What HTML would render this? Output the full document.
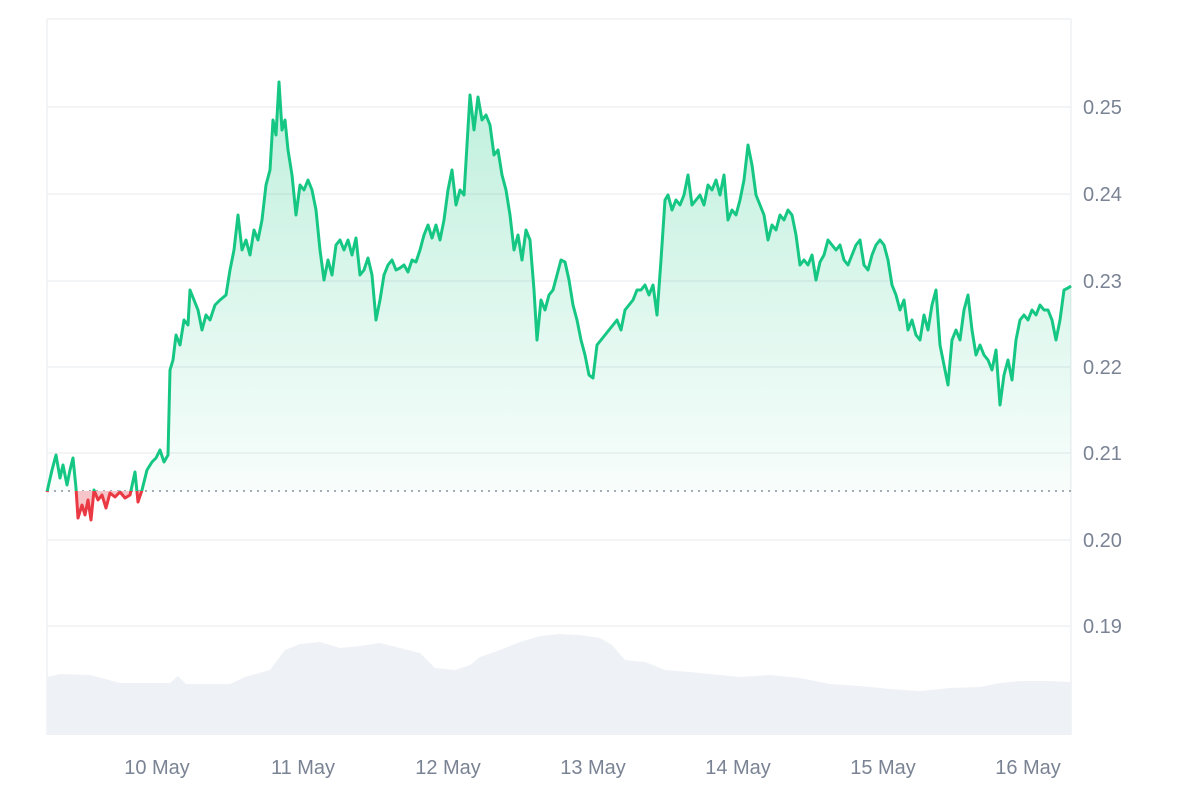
<!DOCTYPE html>
<html><head><meta charset="utf-8"><style>
html,body{margin:0;padding:0;background:#fff;}
svg{display:block;}
text{font-family:"Liberation Sans",sans-serif;font-size:20px;fill:#7a8394;}
</style></head><body>
<svg width="1200" height="800" viewBox="0 0 1200 800">
<defs>
<linearGradient id="g" x1="0" y1="80" x2="0" y2="491" gradientUnits="userSpaceOnUse">
<stop offset="0" stop-color="#16c784" stop-opacity="0.28"/>
<stop offset="1" stop-color="#16c784" stop-opacity="0.03"/>
</linearGradient>
<clipPath id="above"><rect x="0" y="0" width="1200" height="491"/></clipPath>
<clipPath id="below"><rect x="0" y="491" width="1200" height="309"/></clipPath>
<path id="fillp" d="M47,491 L47,492 L52,470 L56,455 L60,478 L63,465 L67,485 L70,470 L73,458 L76,488 L78,518 L82,505 L85,515 L88,500 L91,520 L94,490 L98,500 L102,495 L106,508 L110,493 L115,497 L120,492 L125,498 L130,495 L135,472 L138,502 L142,490 L147,470 L152,462 L156,458 L160,450 L164,462 L168,455 L170,370 L173,360 L176,335 L180,345 L184,320 L188,325 L190,290 L194,300 L198,310 L202,330 L206,315 L210,320 L215,305 L220,300 L226,295 L230,270 L234,250 L238,215 L242,250 L246,240 L250,255 L254,230 L258,240 L262,220 L266,185 L270,170 L273,120 L276,135 L279,82 L282,130 L285,120 L288,150 L292,175 L296,215 L300,185 L304,190 L308,180 L312,190 L316,210 L320,250 L324,280 L328,260 L332,275 L336,245 L340,240 L344,250 L348,240 L352,255 L356,238 L360,275 L364,270 L368,258 L372,275 L376,320 L380,300 L384,275 L388,265 L392,260 L396,270 L400,268 L404,265 L408,272 L412,260 L416,262 L420,250 L424,235 L428,225 L432,238 L436,225 L440,240 L444,220 L448,190 L452,170 L456,205 L460,190 L464,195 L467,145 L470,95 L474,130 L478,97 L482,120 L486,115 L490,125 L494,155 L498,150 L502,175 L506,190 L510,215 L514,250 L518,235 L522,260 L526,230 L530,240 L534,290 L537,340 L541,300 L545,310 L549,295 L553,290 L557,275 L561,260 L565,262 L569,280 L573,305 L577,320 L581,340 L585,355 L589,375 L593,378 L597,345 L601,340 L605,335 L609,330 L613,325 L617,320 L621,330 L625,310 L629,305 L633,300 L637,290 L641,290 L645,285 L649,295 L653,285 L657,315 L661,260 L665,200 L668,195 L672,210 L676,200 L680,205 L684,195 L688,175 L692,205 L696,200 L700,195 L704,205 L708,185 L712,190 L716,180 L720,195 L724,175 L728,220 L732,210 L736,215 L740,200 L744,180 L748,145 L752,165 L756,195 L760,205 L764,215 L768,240 L772,225 L776,230 L780,215 L784,220 L788,210 L792,215 L796,235 L800,265 L804,260 L808,265 L812,255 L816,280 L820,262 L824,255 L828,240 L832,245 L836,250 L840,245 L844,260 L848,265 L852,255 L856,245 L860,240 L864,265 L868,270 L872,255 L876,245 L880,240 L884,245 L888,260 L892,285 L896,295 L900,310 L904,300 L908,330 L912,320 L916,335 L920,340 L924,315 L928,330 L932,305 L936,290 L940,345 L944,365 L948,385 L952,340 L956,330 L960,340 L964,310 L968,295 L972,330 L976,355 L980,345 L984,355 L988,360 L992,370 L996,350 L1000,405 L1004,375 L1008,360 L1012,380 L1016,340 L1020,320 L1024,315 L1028,320 L1032,310 L1036,315 L1040,305 L1044,310 L1048,310 L1052,320 L1056,340 L1060,320 L1064,290 L1068,288 L1071,286 L1071,491 Z"/>
<path id="linep" d="M47,492 L52,470 L56,455 L60,478 L63,465 L67,485 L70,470 L73,458 L76,488 L78,518 L82,505 L85,515 L88,500 L91,520 L94,490 L98,500 L102,495 L106,508 L110,493 L115,497 L120,492 L125,498 L130,495 L135,472 L138,502 L142,490 L147,470 L152,462 L156,458 L160,450 L164,462 L168,455 L170,370 L173,360 L176,335 L180,345 L184,320 L188,325 L190,290 L194,300 L198,310 L202,330 L206,315 L210,320 L215,305 L220,300 L226,295 L230,270 L234,250 L238,215 L242,250 L246,240 L250,255 L254,230 L258,240 L262,220 L266,185 L270,170 L273,120 L276,135 L279,82 L282,130 L285,120 L288,150 L292,175 L296,215 L300,185 L304,190 L308,180 L312,190 L316,210 L320,250 L324,280 L328,260 L332,275 L336,245 L340,240 L344,250 L348,240 L352,255 L356,238 L360,275 L364,270 L368,258 L372,275 L376,320 L380,300 L384,275 L388,265 L392,260 L396,270 L400,268 L404,265 L408,272 L412,260 L416,262 L420,250 L424,235 L428,225 L432,238 L436,225 L440,240 L444,220 L448,190 L452,170 L456,205 L460,190 L464,195 L467,145 L470,95 L474,130 L478,97 L482,120 L486,115 L490,125 L494,155 L498,150 L502,175 L506,190 L510,215 L514,250 L518,235 L522,260 L526,230 L530,240 L534,290 L537,340 L541,300 L545,310 L549,295 L553,290 L557,275 L561,260 L565,262 L569,280 L573,305 L577,320 L581,340 L585,355 L589,375 L593,378 L597,345 L601,340 L605,335 L609,330 L613,325 L617,320 L621,330 L625,310 L629,305 L633,300 L637,290 L641,290 L645,285 L649,295 L653,285 L657,315 L661,260 L665,200 L668,195 L672,210 L676,200 L680,205 L684,195 L688,175 L692,205 L696,200 L700,195 L704,205 L708,185 L712,190 L716,180 L720,195 L724,175 L728,220 L732,210 L736,215 L740,200 L744,180 L748,145 L752,165 L756,195 L760,205 L764,215 L768,240 L772,225 L776,230 L780,215 L784,220 L788,210 L792,215 L796,235 L800,265 L804,260 L808,265 L812,255 L816,280 L820,262 L824,255 L828,240 L832,245 L836,250 L840,245 L844,260 L848,265 L852,255 L856,245 L860,240 L864,265 L868,270 L872,255 L876,245 L880,240 L884,245 L888,260 L892,285 L896,295 L900,310 L904,300 L908,330 L912,320 L916,335 L920,340 L924,315 L928,330 L932,305 L936,290 L940,345 L944,365 L948,385 L952,340 L956,330 L960,340 L964,310 L968,295 L972,330 L976,355 L980,345 L984,355 L988,360 L992,370 L996,350 L1000,405 L1004,375 L1008,360 L1012,380 L1016,340 L1020,320 L1024,315 L1028,320 L1032,310 L1036,315 L1040,305 L1044,310 L1048,310 L1052,320 L1056,340 L1060,320 L1064,290 L1068,288 L1071,286"/>
</defs>
<g stroke="#eef0f3" stroke-width="1.5">
<line x1="47" y1="19" x2="1071" y2="19"/>
<line x1="47" y1="107" x2="1071" y2="107"/>
<line x1="47" y1="194" x2="1071" y2="194"/>
<line x1="47" y1="281" x2="1071" y2="281"/>
<line x1="47" y1="367" x2="1071" y2="367"/>
<line x1="47" y1="453" x2="1071" y2="453"/>
<line x1="47" y1="540" x2="1071" y2="540"/>
<line x1="47" y1="626" x2="1071" y2="626"/>
<line x1="47" y1="19" x2="47" y2="735"/>
<line x1="1071" y1="19" x2="1071" y2="735"/>
</g>
<path fill="#eef1f5" d="M47,677 L60,674 L90,675 L120,683 L170,683 L178,676 L186,684 L230,684 L245,677 L270,670 L285,650 L300,644 L320,642 L340,648 L360,646 L380,643 L400,648 L420,653 L435,668 L455,670 L470,665 L480,657 L500,650 L520,642 L540,636 L560,634 L580,635 L600,638 L612,645 L625,660 L645,662 L665,670 L700,673 L740,677 L770,675 L800,678 L830,684 L860,686 L890,689 L920,691 L950,688 L980,687 L1000,683 L1020,681 L1050,681 L1071,682 L1071,735 L47,735 Z"/>
<line x1="47" y1="491" x2="1071" y2="491" stroke="#8a919c" stroke-width="1.5" stroke-dasharray="2,5"/>
<use href="#fillp" fill="url(#g)" clip-path="url(#above)"/>
<use href="#fillp" fill="#f6c5c9" clip-path="url(#below)"/>
<use href="#linep" fill="none" stroke="#16c784" stroke-width="3" stroke-linejoin="round" clip-path="url(#above)"/>
<use href="#linep" fill="none" stroke="#ea3943" stroke-width="3" stroke-linejoin="round" clip-path="url(#below)"/>
<text x="1083" y="114">0.25</text>
<text x="1083" y="201">0.24</text>
<text x="1083" y="288">0.23</text>
<text x="1083" y="374">0.22</text>
<text x="1083" y="460">0.21</text>
<text x="1083" y="547">0.20</text>
<text x="1083" y="633">0.19</text>
<g text-anchor="middle">
<text x="157" y="774">10 May</text>
<text x="303" y="774">11 May</text>
<text x="448" y="774">12 May</text>
<text x="593" y="774">13 May</text>
<text x="738" y="774">14 May</text>
<text x="883" y="774">15 May</text>
<text x="1028" y="774">16 May</text>
</g>
</svg>
</body></html>
